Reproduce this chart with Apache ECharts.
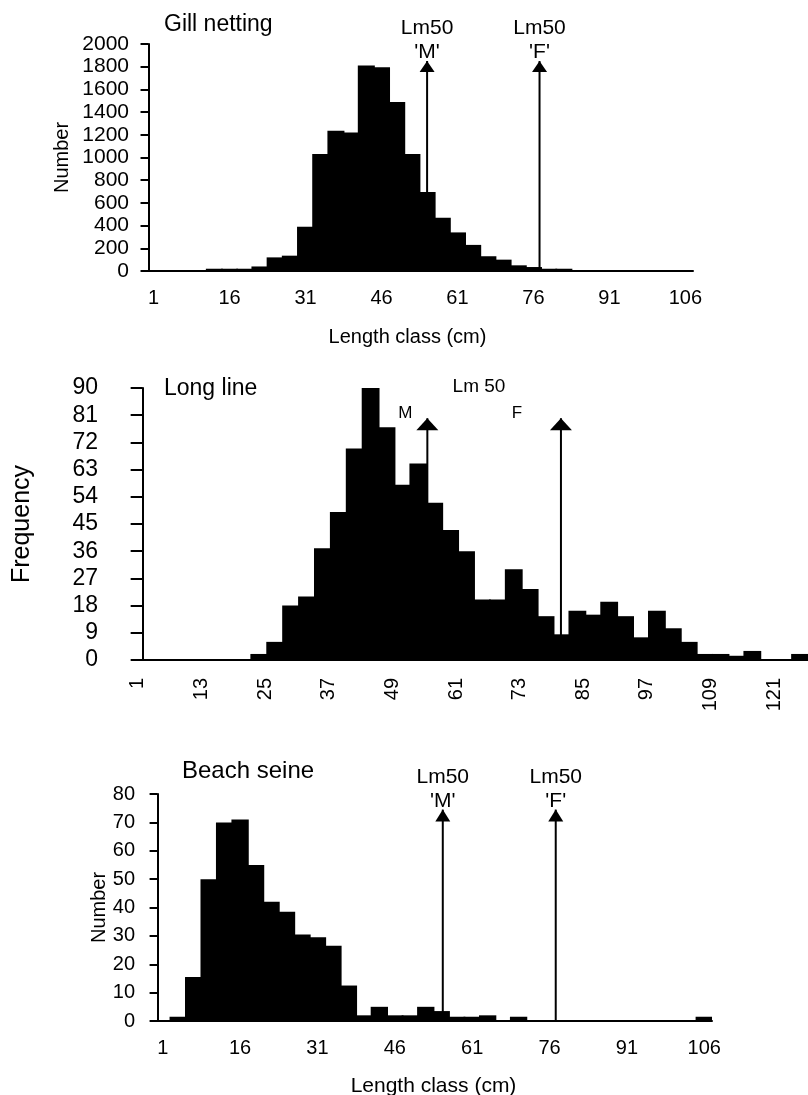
<!DOCTYPE html>
<html>
<head>
<meta charset="utf-8">
<title>Length frequency by gear</title>
<script src="https://cdn.jsdelivr.net/npm/echarts@6/dist/echarts.min.js"></script>
<style>
html, body { margin: 0; padding: 0; background: #fff; }
#main { width: 808px; height: 1095px; }
</style>
</head>
<body>
<div id="main"></div>
<script>
// length classes (cm) and counts
var gillClasses = ['1','4','7','10','13','16','19','22','25','28','31','34','37','40','43','46','49','52',
  '55','58','61','64','67','70','73','76','79','82','85','88','91','94','97','100','103','106'];
var gillNumber = [0,0,0,0,20,20,20,40,120,135,390,1030,1235,1220,1810,1795,1490,1030,
  695,470,340,230,130,100,50,35,20,20,0,0,0,0,0,0,0,0];

var lineClasses = ['1','4','7','10','13','16','19','22','25','28','31','34','37','40','43','46','49','52',
  '55','58','61','64','67','70','73','76','79','82','85','88','91','94','97','100','103','106',
  '109','112','115','118','121','124'];
var lineFreq = [0,0,0,0,0,0,0,2,6,18,21,37,49,70,90,77,58,65,
  52,43,36,20,20,30,23.5,14.5,8.5,16.3,15,19.3,14.5,7.5,16.3,10.5,6,2,
  2,1.4,3,0,0,2];

var seineClasses = gillClasses;
var seineNumber = [0,1.5,15.5,50,70,71,55,42,38.5,30.5,29.5,26.5,12.5,2,5,2,2,5,
  3.5,1.5,1.5,2,0,1.5,0,0,0,0,0,0,0,0,0,0,0,1.5];

// y axis ticks: min, max, step
var gillTicks = [0, 2000, 200];
var lineTicks = [0, 90, 9];
var seineTicks = [0, 80, 10];

// Lm50 arrows: length (cm) for males, females and the arrow top
var sexTags = ["'M'", "'F'"];
var lineTags = ['M', 'F'];
var gillLm50 = [55.0, 77.2], gillTop = 1850;
var lineLm50 = [53.7, 78.9], lineTop = 80;
var seineLm50 = [55.3, 77.2], seineTop = 74.5;

var font = '"Liberation Sans", Arial, sans-serif';
var black = '#000';

function catAxis(grid, data, every, o) {
  return Object.assign({
    type: 'category', gridIndex: grid, data: data,
    axisLine: { lineStyle: { color: black, width: 2 } },
    axisTick: { interval: 0, length: 7, lineStyle: { color: black, width: 2 } },
    axisLabel: { interval: every, margin: 17, fontSize: 20, color: black },
    nameMoveOverlap: false
  }, o || {});
}
// hidden value axis in cm, lined up with the category bands, for the arrows
function cmAxis(grid, n) {
  return { type: 'value', gridIndex: grid, min: -0.5, max: 1 + 3 * (n - 1) + 1.5, show: false };
}
function plain(v) { return String(v); }
function valAxis(grid, t, o) {
  return Object.assign({
    type: 'value', gridIndex: grid, min: t[0], max: t[1], interval: t[2],
    splitLine: { show: false },
    axisLine: { show: true, lineStyle: { color: black, width: 2 } },
    axisTick: { show: true, length: 8, lineStyle: { color: black, width: 2 } },
    axisLabel: { margin: 17, fontSize: 21, color: black, formatter: plain },
    nameLocation: 'middle', nameMoveOverlap: false
  }, o || {});
}
function bars(i, data) {
  // a bit wider than the band so neighbouring bars leave no seam
  return { type: 'bar', xAxisIndex: i, yAxisIndex: i, data: data, barWidth: '112%',
    itemStyle: { color: black }, silent: true };
}
function stem(i, x, top) {
  return { type: 'line', xAxisIndex: i + 3, yAxisIndex: i, data: [[x, 0], [x, top]],
    symbol: 'none', lineStyle: { color: black, width: 2 }, z: 3, silent: true };
}
function heads(i, xs, top, size, label) {
  return { type: 'scatter', xAxisIndex: i + 3, yAxisIndex: i,
    data: xs.map(function (x) { return [x, top]; }),
    symbol: 'triangle', symbolSize: size, symbolOffset: [0, '50%'],
    itemStyle: { color: black, opacity: 1 }, label: label, z: 4, silent: true };
}

var myChart = echarts.init(document.getElementById('main'));
var option = {
  animation: false,
  backgroundColor: '#fff',
  textStyle: { fontFamily: font, color: black },
  grid: [
    { left: 146, top: 44, width: 547, height: 227, outerBoundsMode: 'none' },
    { left: 140, top: 388, width: 668, height: 272, outerBoundsMode: 'none' },
    { left: 155, top: 794, width: 557, height: 227, outerBoundsMode: 'none' }
  ],
  xAxis: [
    catAxis(0, gillClasses, 4, {
      name: 'Length class (cm)', nameLocation: 'middle', nameGap: 56,
      nameTextStyle: { fontSize: 20, color: black, padding: [0, 24, 0, 0] }
    }),
    catAxis(1, lineClasses, 3, {
      axisLabel: { interval: 3, rotate: 90, margin: 18, fontSize: 20, color: black, verticalAlign: 'bottom' }
    }),
    catAxis(2, seineClasses, 4, {
      name: 'Length class (cm)', nameLocation: 'middle', nameGap: 55,
      nameTextStyle: { fontSize: 21, color: black }
    }),
    cmAxis(0, gillClasses.length),
    cmAxis(1, lineClasses.length),
    cmAxis(2, seineClasses.length)
  ],
  yAxis: [
    valAxis(0, gillTicks, { name: 'Number', nameGap: 74, nameTextStyle: { fontSize: 20, color: black } }),
    valAxis(1, lineTicks, {
      name: 'Frequency', nameGap: 105, nameTextStyle: { fontSize: 25, color: black },
      axisTick: { show: true, length: 12, lineStyle: { color: black, width: 2 } },
      axisLabel: { margin: 42, fontSize: 23, color: black, formatter: plain }
    }),
    valAxis(2, seineTicks, {
      name: 'Number', nameGap: 46, nameTextStyle: { fontSize: 20, color: black },
      axisLabel: { margin: 20, fontSize: 20, color: black, formatter: plain }
    })
  ],
  graphic: [
    { type: 'text', x: 164, y: 25, style: { text: 'Gill netting', font: '23px ' + font, fill: black, verticalAlign: 'middle' } },
    { type: 'text', x: 164, y: 389, style: { text: 'Long line', font: '23px ' + font, fill: black, verticalAlign: 'middle' } },
    { type: 'text', x: 182, y: 771, style: { text: 'Beach seine', font: '24px ' + font, fill: black, verticalAlign: 'middle' } },
    { type: 'text', x: 479, y: 387, style: { text: 'Lm 50', font: '19px ' + font, fill: black, align: 'center', verticalAlign: 'middle' } }
  ],
  series: [
    bars(0, gillNumber),
    bars(1, lineFreq),
    bars(2, seineNumber),
    stem(0, gillLm50[0], gillTop), stem(0, gillLm50[1], gillTop),
    stem(1, lineLm50[0], lineTop), stem(1, lineLm50[1], lineTop),
    stem(2, seineLm50[0], seineTop), stem(2, seineLm50[1], seineTop),
    heads(0, gillLm50, gillTop, [15, 11], {
      show: true, position: 'top', distance: -3, fontSize: 21, lineHeight: 24, color: black,
      formatter: function (p) { return 'Lm50\n' + sexTags[p.dataIndex]; }
    }),
    heads(1, lineLm50, lineTop, [22, 12], {
      show: true, position: 'inside', fontSize: 17, color: black,
      formatter: function (p) { return lineTags[p.dataIndex]; }
    }),
    heads(2, seineLm50, seineTop, [15, 12], {
      show: true, position: 'top', distance: -4, fontSize: 21, lineHeight: 24, color: black,
      formatter: function (p) { return 'Lm50\n' + sexTags[p.dataIndex]; }
    })
  ]
};
// M and F in the long line panel sit up and to the left of their arrows
option.series[10].data = option.series[10].data.map(function (d, k) {
  return { value: d, label: { offset: [k === 0 ? -22 : -44, -11] } };
});
myChart.setOption(option);
</script>
</body>
</html>
